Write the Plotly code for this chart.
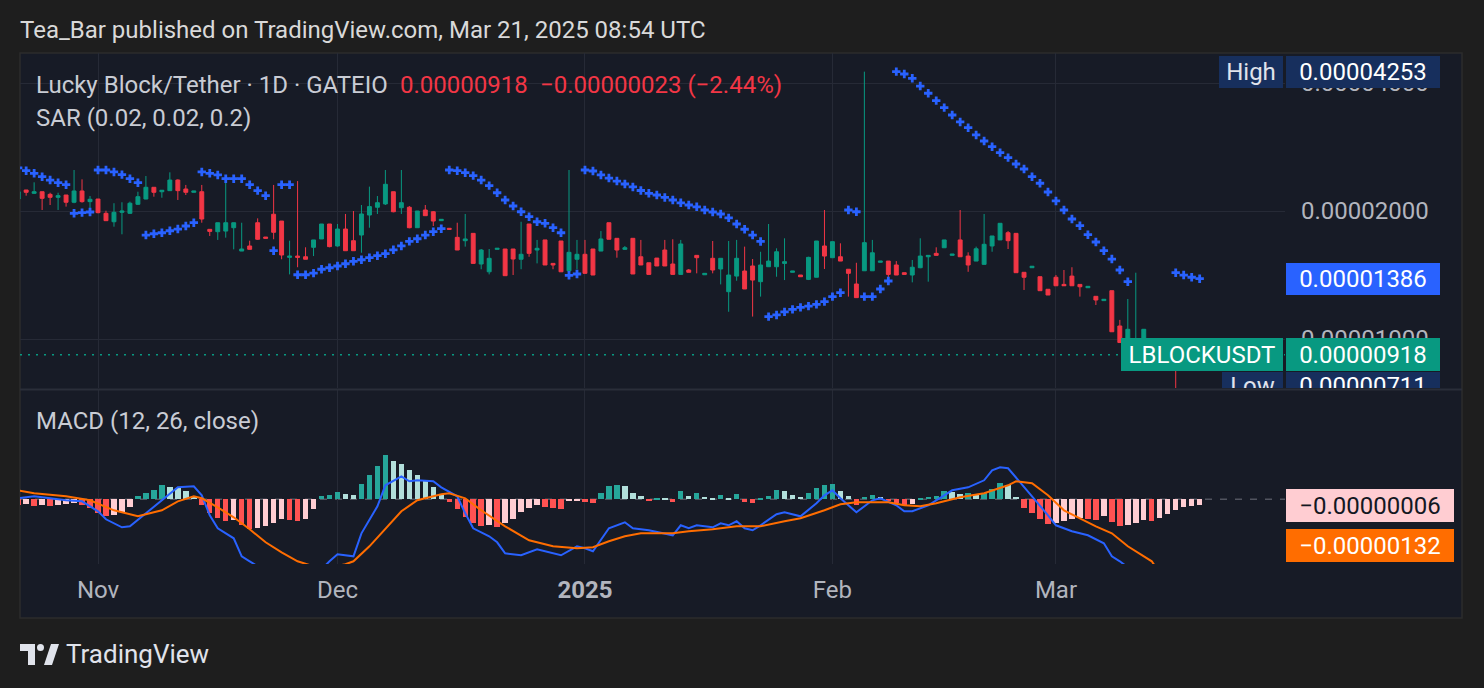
import plotly.graph_objects as go
import pandas as pd
import math

W, H = 1484, 688
S = 1e-8  # values below are in units of 0.00000001 USDT

START = "2024-10-22"
opens = [2134, 2241, 2201, 2220, 2189, 2154, 2181, 2097, 2229, 2104, 2134, 1975, 1887, 1986, 1975, 2074, 2134, 2274, 2220, 2233,
         2365, 2253, 2213, 2220, 1811, 1788, 1794, 1827, 1610, 1655, 1877, 1737, 1965, 1894, 1556, 1567, 1561, 1643, 1719, 1864,
         1655, 1814, 1703, 1756, 1957, 2041, 2078, 2220, 2036, 2041, 1827, 2011, 1992, 1898, 1821, 1734, 1703, 1772, 1501, 1439,
         1625, 1628, 1628, 1540, 1864, 1619, 1710, 1506, 1700, 1447, 1540, 1582, 1628, 1610, 1877, 1725, 1625, 1725, 1561, 1511,
         1550, 1619, 1501, 1419, 1453, 1573, 1416, 1548, 1461, 1292, 1406, 1445, 1485, 1364, 1479, 1479, 1506, 1435, 1414, 1381,
         1397, 1655, 1553, 1561, 1459, 1347, 1447, 1447, 1515, 1525, 1493, 1432, 1414, 1471, 1561, 1590, 1639, 1573, 1710, 1567,
         1525, 1498, 1655, 1710, 1778, 1772, 1435, 1471, 1401, 1309, 1397, 1344, 1406, 1344, 1320, 1260, 1231, 1299, 1073, 968,
         952, 979, 1000, 952, 912, 958, 902, 947, 900]
highs = [2253, 2241, 2336, 2220, 2208, 2208, 2181, 2497, 2374, 2169, 2134, 2003, 2086, 2097, 2104, 2220, 2417, 2274, 2238, 2466,
         2374, 2303, 2229, 2303, 1811, 1877, 2395, 1877, 1877, 1703, 1922, 1737, 2303, 1894, 1703, 2352, 1643, 1710, 1864, 1864,
         1864, 1968, 2000, 2066, 2282, 2169, 2497, 2220, 2497, 2055, 2000, 2066, 2000, 1912, 1821, 1877, 1968, 1772, 1628, 1628,
         1634, 1628, 1628, 1887, 1864, 1710, 1710, 1506, 1700, 2497, 1710, 1710, 1628, 1794, 1877, 1725, 1655, 1725, 1710, 1511,
         1550, 1710, 1716, 1710, 1461, 1573, 1427, 1700, 1548, 1700, 1710, 1649, 1542, 1604, 1864, 1634, 1725, 1445, 1414, 1561,
         1700, 2011, 1694, 1679, 1459, 1511, 4253, 1710, 1525, 1525, 1525, 1432, 1534, 1725, 1573, 1643, 1710, 1584, 2011, 1599,
         1649, 1968, 1747, 1871, 1794, 1772, 1435, 1483, 1401, 1309, 1414, 1453, 1475, 1344, 1330, 1260, 1240, 1299, 1109, 1242,
         1432, 1054, 1005, 995, 989, 984, 979, 995, 963]
lows = [2123, 2173, 2193, 2011, 2066, 2011, 2048, 2086, 2092, 1982, 1975, 1894, 1837, 1763, 1968, 2066, 2131, 2161, 2149, 2229,
        2123, 2181, 2213, 1877, 1747, 1710, 1731, 1625, 1610, 1625, 1710, 1725, 1716, 1540, 1419, 1475, 1540, 1567, 1719, 1643,
        1649, 1613, 1613, 1595, 1827, 1968, 2066, 1986, 1968, 1821, 1827, 1950, 1844, 1898, 1811, 1619, 1649, 1506, 1459, 1419,
        1625, 1409, 1414, 1459, 1561, 1506, 1493, 1459, 1439, 1439, 1459, 1422, 1414, 1610, 1716, 1553, 1619, 1422, 1493, 1419,
        1485, 1485, 1419, 1419, 1435, 1427, 1416, 1427, 1344, 1159, 1371, 1311, 1129, 1258, 1479, 1401, 1376, 1435, 1401, 1376,
        1397, 1461, 1553, 1525, 1258, 1251, 1447, 1447, 1515, 1381, 1414, 1419, 1359, 1467, 1364, 1573, 1639, 1573, 1561, 1439,
        1525, 1498, 1604, 1710, 1628, 1432, 1304, 1471, 1299, 1269, 1334, 1334, 1334, 1258, 1320, 1202, 1231, 1040, 979, 952,
        932, 968, 932, 883, 873, 711, 864, 912, 893]
closes = [2220, 2213, 2220, 2142, 2154, 2173, 2097, 2229, 2104, 2131, 1982, 1898, 1986, 2000, 2086, 2161, 2274, 2213, 2238, 2365,
          2233, 2213, 2229, 1915, 1791, 1877, 1877, 1877, 1628, 1625, 1716, 1725, 1782, 1576, 1567, 1556, 1540, 1710, 1864, 1649,
          1814, 1613, 1613, 1968, 2048, 2092, 2311, 1992, 2092, 1827, 2000, 1950, 1894, 1912, 1811, 1619, 1719, 1506, 1619, 1548,
          1634, 1409, 1542, 1582, 1590, 1634, 1493, 1493, 1439, 1599, 1582, 1427, 1414, 1719, 1716, 1619, 1639, 1422, 1493, 1419,
          1485, 1485, 1419, 1673, 1435, 1553, 1427, 1453, 1548, 1414, 1548, 1311, 1376, 1493, 1525, 1604, 1520, 1445, 1401, 1556,
          1700, 1567, 1694, 1525, 1427, 1251, 1685, 1595, 1525, 1419, 1414, 1419, 1475, 1567, 1573, 1573, 1710, 1584, 1561, 1493,
          1630, 1670, 1747, 1871, 1703, 1432, 1397, 1483, 1299, 1269, 1334, 1334, 1334, 1327, 1330, 1235, 1240, 1040, 981, 1054,
          995, 1054, 952, 912, 958, 902, 947, 941, 918]
sar = [2525, 2488, 2453, 2408, 2365, 2331, 2306, 1975, 1982, 1989, 2497, 2497, 2471, 2435, 2382, 2331, 1756, 1768, 1778, 1797,
       1814, 1844, 1877, 2471, 2453, 2431, 2382, 2382, 2382, 2306, 2233, 2173, 1613, 2306, 2306, 1416, 1416, 1429, 1459, 1471,
       1485, 1503, 1523, 1536, 1553, 1570, 1587, 1621, 1655, 1697, 1721, 1756, 1788, 1817, 2497, 2488, 2461, 2422, 2365, 2294,
       2208, 2123, 2055, 1992, 1939, 1887, 1871, 1827, 1778, 1412, 1422, 2497, 2484, 2431, 2391, 2352, 2315, 2278, 2235, 2201,
       2181, 2152, 2123, 2091, 2066, 2046, 2011, 1989, 1968, 1927, 1864, 1812, 1756, 1696, 1129, 1139, 1158, 1174, 1187, 1195,
       1206, 1224, 1258, 1285, 2011, 1992, 1258, 1258, 1311, 1369, 4253, 4200, 4103, 3935, 3784, 3635, 3500, 3364, 3239, 3140,
       3019, 2922, 2833, 2743, 2670, 2580, 2511, 2408, 2324, 2217, 2112, 2011, 1915, 1847, 1759, 1691, 1613, 1542, 1453, 1364,
       700, 704, 708, 712, 716, 1432, 1414, 1397, 1386]
hist = [-6, -5, -7, -6, -7, -6, -5, -4, -6, -9, -14, -17, -16, -13, -8, 3, 6, 9, 14, 12,
        11, 8, 2, -6, -14, -19, -22, -21, -26, -30, -29, -27, -24, -20, -21, -22, -20, -10, 3, 4,
        7, 5, 4, 15, 24, 33, 44, 38, 35, 29, 24, 18, 12, 4, -3, -10, -18, -24, -27, -26,
        -28, -24, -20, -13, -9, -6, -8, -9, -10, -2, -1, -3, -4, 6, 13, 14, 13, 6, 3, -1,
        1, 1, -3, 8, 3, 6, 2, 1, 4, 1, 5, -3, -4, 1, 3, 9, 8, 4, 2, 6,
        11, 14, 15, 8, 3, -6, 2, 4, 2, -2, -4, -6, -5, 1, 2, 3, 8, 7, 5, 6,
        4, 6, 10, 16, 14, 2, -9, -14, -20, -25, -24, -22, -20, -19, -20, -21, -17, -23, -27, -26,
        -24, -21, -22, -19, -15, -11, -8, -7, -6]
macd_day = [0, 2, 4, 6, 8, 10, 11, 13, 14, 16, 18, 20, 22, 23, 24, 25, 27, 28, 29, 31, 33, 35, 37, 38, 39, 40, 42, 43, 45, 46,
            48, 49, 50, 52, 53, 55, 56, 57, 59, 60, 61, 63, 65, 68, 70, 71, 72, 74, 76, 77, 79, 81, 82, 83, 84, 85, 87, 88, 89, 90,
            91, 92, 93, 95, 96, 98, 100, 101, 102, 103, 105, 107, 108, 110, 111, 112, 114, 116, 117, 119, 121, 122, 123, 124, 126,
            127, 129, 130, 132, 134, 136, 137, 138, 140, 142, 144, 146, 148]
macd_val = [1, 3, 1, -1, -2, -12, -20, -28, -27, -14, -1, 12, 13, 4, -16, -29, -39, -57, -62, -72, -80, -82, -77, -70, -62, -55,
            -57, -34, -7, 14, 23, 18, 19, 18, 12, 3, -14, -29, -37, -43, -54, -56, -50, -56, -47, -49, -52, -29, -23, -29, -31, -34,
            -36, -26, -29, -26, -28, -24, -26, -22, -29, -31, -26, -15, -13, -17, -4, 4, 9, 1, -13, -1, 1, -6, -12, -12, -6, 4, 9,
            12, 19, 29, 32, 31, 13, 3, -16, -26, -32, -36, -44, -57, -62, -75, -86, -105, -124, -138]
signal_day = [0, 2, 6, 9, 12, 15, 18, 20, 22, 23, 25, 27, 29, 31, 33, 35, 37, 39, 41, 42, 44, 46, 48, 50, 53, 54, 56, 58, 61, 64,
              67, 70, 72, 74, 76, 78, 82, 84, 87, 90, 93, 96, 98, 101, 103, 105, 109, 111, 113, 115, 118, 121, 124, 125, 127, 129,
              131, 133, 135, 137, 139, 142, 144, 146, 148]
signal_val = [9, 6, 3, -1, -11, -17, -11, -2, 3, 1, -8, -18, -30, -43, -53, -62, -67, -68, -65, -62, -47, -29, -12, -1, 5, 6, 1,
              -11, -27, -41, -47, -49, -48, -42, -37, -34, -34, -32, -30, -27, -27, -22, -19, -11, -5, -3, -3, -6, -7, -4, 2, 6, 14,
              18, 16, 4, -11, -19, -27, -34, -47, -62, -85, -110, -132]

month_ticks = ["2024-11-01", "2024-12-01", "2025-01-01", "2025-02-01", "2025-03-01"]
month_text = ["Nov", "Dec", "<b>2025</b>", "Feb", "Mar"]
price_ticks = [1000, 2000, 4000]

FONT = "Roboto"
FS = 24
PANEL = "#171b26"
OUTER = "#1e1e1e"
GRID = "#262a36"
UP, DOWN = "#089981", "#f23645"


def px(x):
    return x / W


def py(y):
    return 1 - y / H


dates = pd.date_range(START, periods=len(closes), freq="D")
x_range = [pd.Timestamp("2024-10-22 05:30"), pd.Timestamp("2025-03-29 16:34")]

fig = go.Figure()
fig.add_trace(go.Candlestick(
    x=dates, open=[v * S for v in opens], high=[v * S for v in highs],
    low=[v * S for v in lows], close=[v * S for v in closes],
    increasing=dict(line=dict(color=UP, width=1), fillcolor=UP),
    decreasing=dict(line=dict(color=DOWN, width=1), fillcolor=DOWN),
    whiskerwidth=0, xaxis="x", yaxis="y", hoverinfo="skip"))
fig.add_trace(go.Scatter(
    x=dates, y=[v * S for v in sar], mode="markers",
    marker=dict(symbol="cross", size=7, color="#2962ff", line=dict(width=0)),
    xaxis="x", yaxis="y", hoverinfo="skip"))
fig.add_trace(go.Scatter(
    x=x_range, y=[closes[-1] * S] * 2, mode="lines",
    line=dict(color=UP, width=1.5, dash="2px,6px"), xaxis="x", yaxis="y", hoverinfo="skip"))

hcol = []
for i, v in enumerate(hist):
    prev = hist[i - 1] if i > 0 else v + 1
    if v >= 0:
        hcol.append("#26a69a" if v > prev else "#b2dfdb")
    else:
        hcol.append("#ffcdd2" if v > prev else "#ff5252")
fig.add_trace(go.Bar(x=dates, y=[v * S for v in hist], marker=dict(color=hcol, line=dict(width=0)),
                     width=0.68 * 86400000, xaxis="x2", yaxis="y2", hoverinfo="skip"))
fig.add_trace(go.Scatter(x=[dates[k] for k in macd_day], y=[v * S for v in macd_val], mode="lines",
                         line=dict(color="#2962ff", width=2), xaxis="x2", yaxis="y2", hoverinfo="skip"))
fig.add_trace(go.Scatter(x=[dates[k] for k in signal_day], y=[v * S for v in signal_val], mode="lines",
                         line=dict(color="#ff6d00", width=2), xaxis="x2", yaxis="y2", hoverinfo="skip"))

xd = [px(20), px(1285)]
common_x = dict(type="date", range=x_range, domain=xd, tickvals=month_ticks, showgrid=True,
                gridcolor=GRID, gridwidth=1, zeroline=False, showline=False, ticks="")
lo = -5 - 49 / (128 / math.log10(2))
hi = -5 + 286 / (128 / math.log10(2))
fig.update_layout(
    width=W, height=H, margin=dict(l=0, r=0, t=0, b=0),
    paper_bgcolor=OUTER, plot_bgcolor="rgba(0,0,0,0)", showlegend=False,
    font=dict(family=FONT, size=FS, color="#b2b5be"),
    xaxis=dict(**common_x, anchor="y", showticklabels=False, rangeslider=dict(visible=False), matches="x2"),
    yaxis=dict(type="log", domain=[py(388), py(53)], range=[lo, hi], side="right", anchor="x",
               tickvals=[v * S for v in price_ticks], ticktext=["%.8f" % (v * S) for v in price_ticks],
               showgrid=True, gridcolor=GRID, zeroline=False, ticks="", ticklabelstandoff=15,
               tickfont=dict(size=FS, color="#b2b5be")),
    xaxis2=dict(**common_x, anchor="y2", ticktext=month_text, ticklabelstandoff=9,
                tickfont=dict(size=FS, color="#b2b5be")),
    yaxis2=dict(domain=[py(564), py(390)], range=[-64.7 * S, 109.3 * S], anchor="x2",
                showgrid=False, zeroline=False, showticklabels=False, ticks=""),
    bargap=0,
)

shapes = [
    dict(type="rect", xref="paper", yref="paper", x0=px(20), x1=px(1462), y0=py(618), y1=py(53),
         fillcolor=PANEL, line=dict(color="#2c2c2c", width=1.5), layer="below"),
    dict(type="line", xref="paper", yref="paper", x0=px(20), x1=px(1462), y0=py(389.5), y1=py(389.5),
         line=dict(color="#2a2e39", width=2), layer="above"),
    dict(type="line", xref="paper", yref="y2", x0=px(20), x1=px(1285), y0=0, y1=0,
         line=dict(color="rgba(120,123,134,0.6)", width=1.5, dash="7px,8px"), layer="below"),
    # TradingView logo
    dict(type="path", xref="paper", yref="paper",
         path="M %f %f L %f %f L %f %f L %f %f L %f %f L %f %f Z" % (
             px(20), py(644), px(35), py(644), px(35), py(665), px(28), py(665), px(28), py(651), px(20), py(651)),
         fillcolor="#e0e3eb", line=dict(width=0)),
    dict(type="circle", xref="paper", yref="paper", x0=px(37), x1=px(44), y0=py(651), y1=py(644),
         fillcolor="#e0e3eb", line=dict(width=0)),
    dict(type="path", xref="paper", yref="paper",
         path="M %f %f L %f %f L %f %f L %f %f Z" % (
             px(44), py(665), px(51), py(644), px(59), py(644), px(52), py(665)),
         fillcolor="#e0e3eb", line=dict(width=0)),
]
fig.update_layout(shapes=shapes)

ann = []


def text(x, y, s, color, size=FS, anchor="left"):
    ann.append(dict(x=px(x - 2), y=py(y), xref="paper", yref="paper", text=s, showarrow=False,
                    xanchor=anchor, yanchor="middle", font=dict(family=FONT, size=size, color=color)))


def box(x, width, s, bg, fg, y=None, yref="paper", height=33, yanchor="middle", valign="middle"):
    ann.append(dict(x=px(x), y=y, xref="paper", yref=yref, text=s, showarrow=False,
                    xanchor="left", yanchor=yanchor, width=width, height=height, align="center",
                    valign=valign, bgcolor=bg, borderpad=0, borderwidth=0,
                    font=dict(family=FONT, size=FS, color=fg)))


text(20, 30, "Tea_Bar published on TradingView.com, Mar 21, 2025 08:54 UTC", "#d9d9d9")
text(36, 85, "Lucky Block/Tether · 1D · GATEIO", "#c9ccd4")
text(400, 85, "%.8f" % (closes[-1] * S), DOWN)
text(540, 85, "−0.00000023 (−2.44%)", DOWN)
text(36, 118, "SAR (0.02, 0.02, 0.2)", "#c9ccd4")
text(36, 421, "MACD (12, 26, close)", "#c9ccd4")
text(66, 654, "TradingView", "#e0e3eb", size=26)

NAVY = "#172f5d"
hi_val = max(highs)
lo_val = min(lows)
box(1219, 64, "High", NAVY, "#e0e3eb", y=math.log10(hi_val * S), yref="y", height=32)
box(1286, 154, "%.8f" % (hi_val * S), NAVY, "#ffffff", y=math.log10(hi_val * S), yref="y", height=32)
box(1286, 154, "%.8f" % (sar[-1] * S), "#2962ff", "#ffffff", y=math.log10(sar[-1] * S), yref="y", height=32)
box(1121, 162, "LBLOCKUSDT", UP, "#ffffff", y=math.log10(closes[-1] * S), yref="y", height=33)
box(1286, 154, "%.8f" % (closes[-1] * S), UP, "#ffffff", y=math.log10(closes[-1] * S), yref="y", height=33)
box(1222, 61, "Low", NAVY, "#e0e3eb", y=py(372), height=16, yanchor="top", valign="top")
box(1286, 154, "%.8f" % (lo_val * S), NAVY, "#ffffff", y=py(372), height=16, yanchor="top", valign="top")
box(1286, 168, "−%.8f" % (-hist[-1] * S), "#ffcdd2", "#131722", y=hist[-1] * S, yref="y2", height=33)
box(1286, 168, "−%.8f" % (-signal_val[-1] * S), "#ff6d00", "#ffffff", y=py(545), height=33)
fig.update_layout(annotations=ann)

fig.write_html("out.html")
